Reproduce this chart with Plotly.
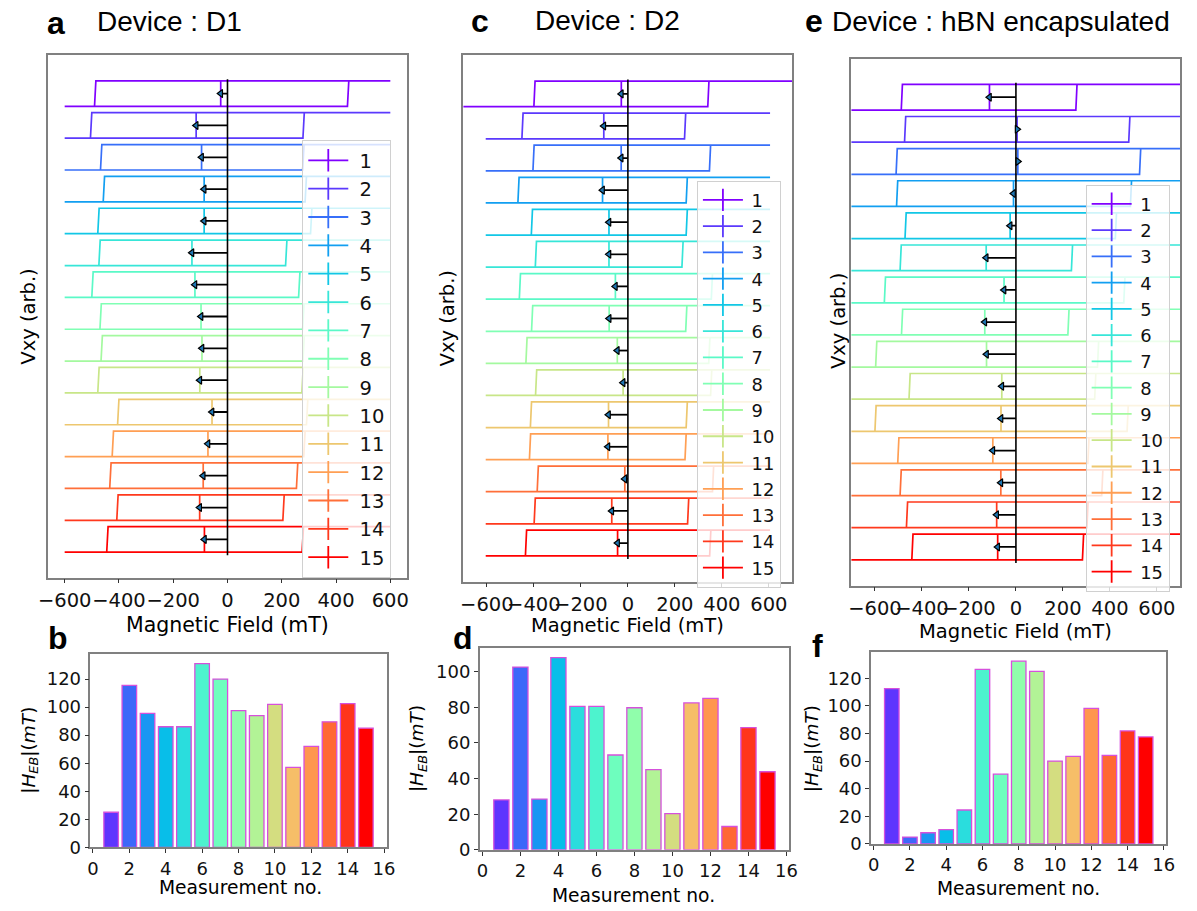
import math
import plotly.graph_objects as go

W, H = 1197, 911

# ---------------- data ----------------
measurement_no = list(range(1, 16))
legend_labels = [str(m) for m in measurement_no]

heb_d1 = [25, 115.5, 95.5, 86, 86, 131, 120, 97.5, 94, 102, 57, 72, 89.5, 102.5, 85]
heb_d2 = [28, 102.5, 28.5, 107.8, 80.5, 80.5, 53.2, 79.7, 45, 20.3, 82.4, 85, 13.1, 68.6, 43.8]
heb_hbn = [112.6, 5, 8.1, 10.3, 24.6, 126.5, 50.6, 132.5, 125.1, 60.1, 63.5, 98.3, 64.2, 81.9, 77.6]

# direction of the loop shift (-1: towards negative field)
dir_d1 = [-1] * 15
dir_d2 = [-1] * 15
dir_hbn = [-1, 1, 1, -1, -1, -1, -1, -1, -1, -1, -1, -1, -1, -1, -1]

# switching fields (mT) of each loop
hc_left_d1 = [-490, -505, -468, -458, -478, -474, -500, -470, -466, -478, -405, -425, -434, -408, -445]
hc_right_d1 = [442, 278, 277, 286, 306, 214, 262, 277, 278, 274, 291, 281, 254, 204, 275]
hc_left_d2 = [-400, -451, -404, -468, -411, -394, -462, -410, -434, -393, -415, -419, -386, -399, -436]
hc_right_d2 = [340, 241, 347, 248, 248, 230, 355, 246, 344, 352, 248, 243, 360, 254, 348]
hc_left_hbn = [-488, -474, -510, -508, -472, -493, -560, -487, -597, -455, -600, -503, -493, -466, -443]
hc_right_hbn = [255, 480, 526, 487, 423, 236, 459, 221, 347, 335, 473, 306, 365, 302, 283]

# field sweep limits (mT)
sweep_d1 = [600] * 15
sweep_d2 = [760] + [605] * 14
sweep_hbn = [760] * 15

field_ticks = [-600, -400, -200, 0, 200, 400, 600]
meas_ticks = [0, 2, 4, 6, 8, 10, 12, 14, 16]


# ---------------- styling helpers ----------------
def rainbow(x):
    r = min(1.0, abs(2 * x - 0.5))
    g = max(0.0, math.sin(math.pi * x))
    b = max(0.0, math.cos(math.pi * x / 2))
    return "rgb(%d,%d,%d)" % (round(r * 255), round(g * 255), round(b * 255))


loop_colors = [rainbow(i / 14) for i in range(15)]
bar_colors = [rainbow((i + 1) / 15) for i in range(15)]


def px_x(px):
    return px / W


def px_y(py):
    return 1 - py / H


AX_FONT = "DejaVu Sans"
TITLE_FONT = "Liberation Sans, Arial"
FRAME = "#808080"
LOOP_H = 0.8
SLANT = 5

fig = go.Figure()

panels = [
    ("x", "y", heb_d1, dir_d1, hc_left_d1, hc_right_d1, sweep_d1, "legend",
     (39, 56, 403, 584), [-660, 660], "&nbsp;"),
    ("x2", "y2", heb_d2, dir_d2, hc_left_d2, hc_right_d2, sweep_d2, "legend2",
     (460.7, 56, 795, 588), [-700, 700], "\u2009"),
    ("x3", "y3", heb_hbn, dir_hbn, hc_left_hbn, hc_right_hbn, sweep_hbn, "legend3",
     (855, 59.3, 1189.3, 592), [-700, 700], "\u2009"),
]

layout_axes = {}
for k, (xa, ya, heb, dr, hl_, hr_, sw, leg, box, xr, pad) in enumerate(panels):
    for i in range(15):
        y0 = -i
        c = dr[i] * heb[i]
        hl, hr, m = hl_[i], hr_[i], sw[i]
        xs = [-m, hr, hr + SLANT, m, hl + SLANT, hl, -m, None, c, c]
        ys = [y0, y0, y0 + LOOP_H, y0 + LOOP_H, y0 + LOOP_H, y0, y0, None, y0, y0 + LOOP_H]
        fig.add_trace(go.Scatter(x=xs, y=ys, xaxis=xa, yaxis=ya, mode="lines",
                                 line=dict(color=loop_colors[i], width=1.7),
                                 showlegend=False, hoverinfo="skip"))
    fig.add_trace(go.Scatter(x=[0, 0], y=[-14.1, 0.85], xaxis=xa, yaxis=ya, mode="lines",
                             line=dict(color="black", width=1.6), showlegend=False,
                             hoverinfo="skip"))
    ax_, ay_ = [], []
    for i in range(15):
        yc = -i + LOOP_H / 2
        ax_ += [0, dr[i] * heb[i], None]
        ay_ += [yc, yc, None]
    fig.add_trace(go.Scatter(x=ax_, y=ay_, xaxis=xa, yaxis=ya, mode="lines",
                             line=dict(color="black", width=1.8), showlegend=False,
                             hoverinfo="skip"))
    fig.add_trace(go.Scatter(
        x=[dr[i] * heb[i] for i in range(15)],
        y=[-i + LOOP_H / 2 for i in range(15)],
        xaxis=xa, yaxis=ya, mode="markers",
        marker=dict(symbol=["triangle-left" if d < 0 else "triangle-right" for d in dr],
                    size=7, color="#1f77b4", line=dict(color="black", width=1.2)),
        showlegend=False, hoverinfo="skip"))
    for i in range(15):
        fig.add_trace(go.Scatter(x=[None], y=[None], xaxis=xa, yaxis=ya,
                                 mode="lines+markers", name=pad + legend_labels[i], legend=leg,
                                 line=dict(color=loop_colors[i], width=1.8),
                                 marker=dict(symbol="line-ns-open", size=16,
                                             line=dict(color=loop_colors[i], width=1.8))))
    x0, y0p, x1, y1p = box
    xn = "xaxis" + xa[1:]
    yn = "yaxis" + ya[1:]
    layout_axes[xn] = dict(domain=[px_x(x0), px_x(x1)], range=xr, anchor=ya,
                           tickvals=field_ticks, ticks="outside", ticklen=4,
                           tickcolor="#333", tickangle=0,
                           tickfont=dict(family=AX_FONT, size=19.5, color="#111"),
                           showline=True, mirror=True, linecolor=FRAME, linewidth=1.5,
                           showgrid=False, zeroline=False)
    layout_axes[yn] = dict(domain=[px_y(y1p), px_y(y0p)], range=[-14.8, 1.6], anchor=xa,
                           showticklabels=False, ticks="", showline=True, mirror=True,
                           linecolor=FRAME, linewidth=1.5, showgrid=False, zeroline=False)

bar_panels = [
    ("x4", "y4", heb_d1, (81.7, 661.7, 382.7, 856.7), [0, 137.6], [0, 20, 40, 60, 80, 100, 120]),
    ("x5", "y5", heb_d2, (477.3, 655, 791.7, 859.3), [0, 113.3], [0, 20, 40, 60, 80, 100]),
    ("x6", "y6", heb_hbn, (875, 659.3, 1175, 853.3), [0, 139.1], [0, 20, 40, 60, 80, 100, 120]),
]
for xa, ya, heb, box, yr, yt in bar_panels:
    fig.add_trace(go.Bar(x=measurement_no, y=heb, xaxis=xa, yaxis=ya, width=0.8,
                         marker=dict(color=bar_colors, line=dict(color="#d650dc", width=1.3)),
                         showlegend=False, hoverinfo="skip"))
    x0, y0p, x1, y1p = box
    xn = "xaxis" + xa[1:]
    yn = "yaxis" + ya[1:]
    layout_axes[xn] = dict(domain=[px_x(x0), px_x(x1)], range=[-0.14, 16.14], anchor=ya,
                           tickvals=meas_ticks, ticks="outside", ticklen=4, tickcolor="#333",
                           tickangle=0, tickfont=dict(family=AX_FONT, size=18, color="#111"),
                           showline=True, mirror=True, linecolor=FRAME, linewidth=1.5,
                           showgrid=False, zeroline=False)
    layout_axes[yn] = dict(domain=[px_y(y1p), px_y(y0p)], range=yr, anchor=xa,
                           tickvals=yt, ticks="outside", ticklen=4, tickcolor="#333",
                           tickfont=dict(family=AX_FONT, size=18, color="#111"),
                           showline=True, mirror=True, linecolor=FRAME, linewidth=1.5,
                           showgrid=False, zeroline=False)


def ann(text, x, y, size, family=AX_FONT, xanchor="center", yanchor="middle", angle=0,
        bold=False, dy=0, dx=0):
    if bold:
        text = "<b>" + text + "</b>"
    return dict(text=text, x=px_x(x + dx), y=px_y(y + dy), xref="paper", yref="paper",
                xanchor=xanchor, yanchor=yanchor, showarrow=False, textangle=angle,
                font=dict(family=family, size=size, color="black"))


LIB_DY = 3
DJ_DY = 7
annotations = [
    ann("a", 36, 20.5, 32, TITLE_FONT, "left", bold=True, dy=LIB_DY),
    ann("Device : D1", 86, 19.3, 28, TITLE_FONT, "left", dy=LIB_DY - 1),
    ann("c", 466, 18, 32, TITLE_FONT, "left", bold=True, dy=LIB_DY),
    ann("Device : D2", 531, 18.5, 28, TITLE_FONT, "left", dy=LIB_DY - 1),
    ann("e", 806, 18.5, 32, TITLE_FONT, "left", bold=True, dy=LIB_DY),
    ann("Device : hBN encapsulated", 833, 19.3, 28, TITLE_FONT, "left", dy=LIB_DY - 1),
    ann("b", 37, 640, 32, TITLE_FONT, "left", bold=True, dy=LIB_DY + 2),
    ann("d", 448, 640, 32, TITLE_FONT, "left", bold=True, dy=LIB_DY + 2),
    ann("f", 813, 648, 32, TITLE_FONT, "left", bold=True, dy=LIB_DY + 2),
    ann("Magnetic Field (mT)", 221, 624.6, 20.5, dy=DJ_DY),
    ann("Magnetic Field (mT)", 627, 625.3, 19.5, dy=DJ_DY),
    ann("Magnetic Field (mT)", 1022, 631.3, 19.5, dy=DJ_DY),
    ann("Vxy (arb.)", 22.5, 320, 19.5, angle=-90, dx=-4),
    ann("Vxy (arb.)", 445, 322, 19.5, angle=-90),
    ann("Vxy (arb.)", 842, 325, 19.5, angle=-90),
    ann("Measurement no.", 234, 890.5, 18.7, dy=DJ_DY),
    ann("Measurement no.", 634, 899.5, 18.7, dy=DJ_DY - 1),
    ann("Measurement no.", 1025, 891.5, 18.7, dy=DJ_DY),
    ann("|<i>H</i><sub><i>EB</i></sub>|(<i>mT</i>)", 23.5, 759, 18.5, angle=-90, dx=-4),
    ann("|<i>H</i><sub><i>EB</i></sub>|(<i>mT</i>)", 416, 757, 18.5, angle=-90, dx=-2),
    ann("|<i>H</i><sub><i>EB</i></sub>|(<i>mT</i>)", 817.5, 757, 18.5, angle=-90, dx=-2),
]


def legend_box(x, y, size):
    return dict(x=px_x(x), y=px_y(y), xanchor="left", yanchor="top",
                bgcolor="rgba(255,255,255,0.8)", bordercolor="#d0d0d0", borderwidth=1,
                itemwidth=40, font=dict(family=AX_FONT, size=size, color="#111"),
                tracegroupgap=0)


fig.update_layout(
    width=W, height=H, margin=dict(l=0, r=0, t=0, b=0),
    paper_bgcolor="white", plot_bgcolor="white",
    annotations=annotations,
    legend=legend_box(297, 141.7, 19.5),
    legend2=legend_box(698, 182.7, 17.9),
    legend3=legend_box(1093, 186.7, 17.9),
    **layout_axes,
)

fig.write_html("out.html")
